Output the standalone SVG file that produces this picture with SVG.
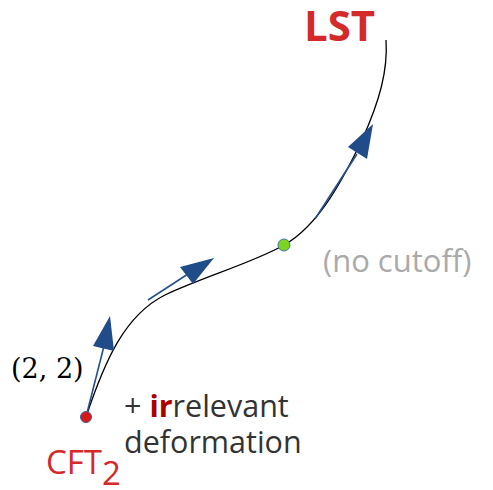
<svg xmlns="http://www.w3.org/2000/svg" width="493" height="490" viewBox="0 0 493 490">
<style>
.flow{fill:none;stroke:#000;stroke-width:1.3}
.arr{stroke:#24508f;stroke-width:1.6;fill:none}
.head{fill:#214c8a;stroke:none}
.t{font-family:"Open Sans","Liberation Sans",sans-serif}
</style>
<rect width="493" height="490" fill="#fff"/>
<g id="connectors">
<path class="flow" d="M86,417 C105,360 125,315 165,295 C200,278 255,262 284,245 C320,225 345,175 362,140 C380,100 388,70 386,40"/>
<line class="arr" x1="87" y1="413" x2="104" y2="346"/>
<polygon class="head" points="110,316 93,346 114,351"/>
<line class="arr" x1="148" y1="300" x2="188" y2="274"/>
<polygon class="head" points="214,258 180,267 193,284"/>
<line class="arr" x1="315" y1="219" x2="357" y2="154"/>
<polygon class="head" points="373,124 348,147 367,159"/>
</g>
<g id="LST"><text class="t" x="304" y="41" font-size="42" font-weight="bold" fill="#d42a2a">LST</text></g>
<g id="CFT2">
<circle cx="86" cy="417" r="5.5" fill="#d81818" stroke="#3a5fa0" stroke-width="1"/>
<text class="t" x="46" y="474" font-size="33" fill="#d42a2a">CFT<tspan dy="11">2</tspan></text>
</g>
<g id="mid">
<circle cx="284" cy="245" r="6" fill="#7ed321" stroke="#3a78a0" stroke-width="1"/>
<text class="t" x="323" y="272" font-size="31" fill="#aaa">(no cutoff)</text>
</g>
<g id="labels">
<text x="11" y="378" font-family="'DejaVu Serif','Liberation Serif',serif" font-size="27" fill="#000">(2, 2)</text>
<text class="t" x="124" y="417" font-size="30.5" fill="#333">+ <tspan font-weight="bold" fill="#a00">ir</tspan>relevant</text>
<text class="t" x="124" y="453" font-size="30.5" fill="#333">deformation</text>
</g>
</svg>
